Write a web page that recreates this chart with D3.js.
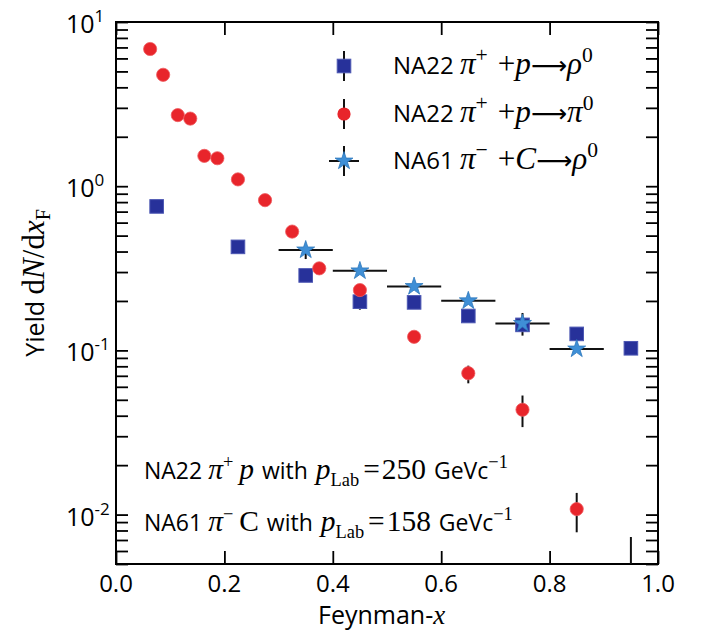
<!DOCTYPE html>
<html>
<head>
<meta charset="utf-8">
<script src="https://cdn.jsdelivr.net/npm/d3@7"></script>
<style>
html,body{margin:0;padding:0;background:#fff;}
svg{display:block;}
</style>
</head>
<body>
<script>
// ---------------- data ----------------
// NA22 pi+ p -> rho0 (blue squares)
const rhoX   = [0.075, 0.225, 0.35, 0.45, 0.55, 0.65, 0.75, 0.85, 0.95];
const rhoY   = [0.753, 0.427, 0.286, 0.198, 0.196, 0.162, 0.143, 0.126, 0.103];
const rhoLo  = [0.753, 0.427, 0.286, 0.177, 0.196, 0.162, 0.132, 0.126, 0.103];
const rhoHi  = [0.753, 0.427, 0.286, 0.220, 0.196, 0.162, 0.155, 0.126, 0.103];
// NA22 pi+ p -> pi0 (red circles)
const pi0X   = [0.063, 0.087, 0.114, 0.137, 0.163, 0.187, 0.225, 0.275, 0.325, 0.375, 0.45, 0.55, 0.65, 0.75, 0.85, 0.95];
const pi0Y   = [6.85, 4.77, 2.71, 2.58, 1.53, 1.48, 1.10, 0.822, 0.529, 0.316, 0.233, 0.121, 0.0726, 0.0435, 0.0108, 0.0030];
const pi0Lo  = [6.85, 4.77, 2.71, 2.58, 1.53, 1.48, 1.10, 0.822, 0.529, 0.316, 0.233, 0.121, 0.063, 0.0341, 0.0078, 0.0015];
const pi0Hi  = [6.85, 4.77, 2.71, 2.58, 1.53, 1.48, 1.10, 0.822, 0.529, 0.316, 0.233, 0.121, 0.0807, 0.0531, 0.01355, 0.0073];
// NA61 pi- C -> rho0 (stars)
const na61X  = [0.35, 0.45, 0.55, 0.65, 0.75, 0.85];
const na61XLo= [0.30, 0.40, 0.50, 0.60, 0.70, 0.80];
const na61XHi= [0.40, 0.50, 0.60, 0.70, 0.80, 0.90];
const na61Y  = [0.409, 0.305, 0.245, 0.2005, 0.146, 0.102];
const na61Lo = [0.360, 0.305, 0.245, 0.2005, 0.123, 0.102];
const na61Hi = [0.440, 0.305, 0.245, 0.2005, 0.169, 0.102];
// ticks
const xTicks = [0.0, 0.2, 0.4, 0.6, 0.8, 1.0];
const xTickLabels = ["0.0", "0.2", "0.4", "0.6", "0.8", "1.0"];
const yMajor = [0.01, 0.1, 1, 10];
const yMajorExp = ["-2", "-1", "0", "1"];

// ---------------- setup ----------------
const W = 701, H = 631;
const L = 116, R = 658, T = 22, B = 564;
const SANS = "'Open Sans', 'Noto Sans', sans-serif";
const SERIF = "'Liberation Serif', 'DejaVu Serif', serif";
const ARROWF = "'DejaVu Sans', 'DejaVu Serif', sans-serif";
const BLUE = "#27319a", RED = "#e8252b", STAR = "#3f8fd6";

const svg = d3.select("body").append("svg").attr("width", W).attr("height", H);
const x = d3.scaleLinear().domain([0, 1]).range([L, R]);
const y = d3.scaleLog().domain([0.005, 10]).range([B, T]);

const yMinor = [];
for (const d of [0.001, 0.01, 0.1, 1]) for (let k = 2; k <= 9; k++) {
  const v = +(d * k).toPrecision(3);
  if (v >= 0.005 && v <= 10) yMinor.push(v);
}
const yAll = yMajor.concat(yMinor);

// axes (ticks pointing inward)
function styleAxis(g) {
  g.select(".domain").remove();
  g.selectAll(".tick line").attr("stroke", "#000").attr("stroke-width", 1.8);
  g.selectAll(".tick text").remove();
}
svg.append("g").attr("transform", `translate(0,${B})`)
  .call(d3.axisBottom(x).tickValues(xTicks).tickSize(-13).tickFormat("")).call(styleAxis);
svg.append("g").attr("transform", `translate(0,${T})`)
  .call(d3.axisTop(x).tickValues(xTicks).tickSize(-13).tickFormat("")).call(styleAxis);
svg.append("g").attr("transform", `translate(${L},0)`)
  .call(d3.axisLeft(y).tickValues(yAll).tickSize(-12).tickFormat("")).call(styleAxis);
svg.append("g").attr("transform", `translate(${R},0)`)
  .call(d3.axisRight(y).tickValues(yAll).tickSize(-12).tickFormat("")).call(styleAxis);

// frame
svg.append("rect").attr("x", L).attr("y", T).attr("width", R - L).attr("height", B - T)
  .attr("fill", "none").attr("stroke", "#000").attr("stroke-width", 2);

// x tick labels
svg.append("g").selectAll("text").data(xTicks).join("text")
  .attr("x", d => x(d)).attr("y", 592)
  .attr("text-anchor", "middle").attr("font-family", SANS).attr("font-size", 24)
  .text((d, i) => xTickLabels[i]);

// y tick labels 10^n
yMajor.forEach((v, i) => {
  const t = svg.append("text").attr("x", 66).attr("y", y(v) + 11)
    .attr("font-family", SANS).attr("font-size", 25);
  t.append("tspan").text("10");
  t.append("tspan").attr("dy", -11).attr("font-size", 17).text(yMajorExp[i]);
});

// axis titles
const xt = svg.append("text").attr("x", 318).attr("y", 624)
  .attr("font-family", SANS).attr("font-size", 25);
xt.append("tspan").text("Feynman-");
xt.append("tspan").attr("font-family", SERIF).attr("font-style", "italic").attr("font-size", 27).text("x");

const yt = svg.append("text").attr("transform", `translate(44,${283}) rotate(-90)`)
  .attr("text-anchor", "middle").attr("font-family", SANS).attr("font-size", 25);
yt.append("tspan").text("Yield ");
yt.append("tspan").attr("font-family", SERIF).attr("font-size", 31).text("d");
yt.append("tspan").attr("font-family", SERIF).attr("font-style", "italic").attr("font-size", 31).text("N");
yt.append("tspan").attr("font-family", SERIF).attr("font-size", 31).text("/d");
yt.append("tspan").attr("font-family", SERIF).attr("font-style", "italic").attr("font-size", 31).text("x");
yt.append("tspan").attr("font-family", SERIF).attr("font-size", 20).attr("dy", 6).text("F");

// ---------------- marks ----------------
svg.append("clipPath").attr("id", "clip").append("rect")
  .attr("x", L).attr("y", T).attr("width", R - L).attr("height", B - T);
const plot = svg.append("g").attr("clip-path", "url(#clip)");

const rho = rhoX.map((d, i) => ({x: d, y: rhoY[i], lo: rhoLo[i], hi: rhoHi[i]}));
const pi0 = pi0X.map((d, i) => ({x: d, y: pi0Y[i], lo: pi0Lo[i], hi: pi0Hi[i]}));
const na61 = na61X.map((d, i) => ({x: d, y: na61Y[i], lo: na61Lo[i], hi: na61Hi[i], xl: na61XLo[i], xh: na61XHi[i]}));

const errG = plot.append("g").attr("stroke", "#111").attr("stroke-width", 2);
errG.selectAll(".e").data(rho.concat(pi0, na61).filter(d => d.lo !== d.hi)).join("line")
  .attr("x1", d => x(d.x)).attr("x2", d => x(d.x))
  .attr("y1", d => y(d.lo)).attr("y2", d => y(d.hi));
errG.selectAll(".h").data(na61).join("line")
  .attr("x1", d => x(d.xl)).attr("x2", d => x(d.xh))
  .attr("y1", d => y(d.y)).attr("y2", d => y(d.y));

plot.append("g").selectAll("rect").data(rho).join("rect")
  .attr("x", d => x(d.x) - 6.8).attr("y", d => y(d.y) - 6.8)
  .attr("width", 13.6).attr("height", 13.6)
  .attr("fill", BLUE).attr("stroke", "#4c57b3").attr("stroke-width", 1);

plot.append("g").selectAll("circle").data(pi0).join("circle")
  .attr("cx", d => x(d.x)).attr("cy", d => y(d.y)).attr("r", 6.6)
  .attr("fill", RED).attr("stroke", "#ef5a5e").attr("stroke-width", 0.8);

const star = d3.symbol().type(d3.symbolStar).size(100);
plot.append("g").selectAll("path").data(na61).join("path")
  .attr("transform", d => `translate(${x(d.x)},${y(d.y)})`)
  .attr("d", star).attr("fill", STAR).attr("stroke", "#2f78bd").attr("stroke-width", 0.8);

// ---------------- rich text helper ----------------
function rich(t, parts, base, sf, supf) {
  let off = 0;
  parts.forEach(p => {
    const s = t.append("tspan").text(p.t);
    s.attr("font-family", p.arrow ? ARROWF : (p.serif ? SERIF : SANS));
    if (p.it) s.attr("font-style", "italic");
    let target = 0, fs = base;
    if (p.sup) { target = -base * 0.5; fs = base * supf; }
    if (p.sub) { target = base * 0.3; fs = base * 0.8; }
    if (p.serif && !p.sup && !p.sub) fs = base * sf;
    if (p.arrow) fs = base * 1.05;
    s.attr("font-size", fs);
    if (p.dx) s.attr("dx", p.dx);
    if (target !== off) { s.attr("dy", target - off); off = target; }
  });
}

// legend
const legRows = [
  {y: 66, kind: "sq", parts: [
    {t: "NA22 "}, {t: "π", serif: 1, it: 1}, {t: "+", serif: 1, sup: 1}, {t: "+", serif: 1, dx: 10},
    {t: "p", serif: 1, it: 1}, {t: "⟶", arrow: 1}, {t: "ρ", serif: 1, it: 1}, {t: "0", serif: 1, sup: 1}]},
  {y: 114, kind: "ci", parts: [
    {t: "NA22 "}, {t: "π", serif: 1, it: 1}, {t: "+", serif: 1, sup: 1}, {t: "+", serif: 1, dx: 10},
    {t: "p", serif: 1, it: 1}, {t: "⟶", arrow: 1}, {t: "π", serif: 1, it: 1}, {t: "0", serif: 1, sup: 1}]},
  {y: 161, kind: "st", parts: [
    {t: "NA61 "}, {t: "π", serif: 1, it: 1}, {t: "−", serif: 1, sup: 1}, {t: "+", serif: 1, dx: 10},
    {t: "C", serif: 1, it: 1}, {t: "⟶", arrow: 1}, {t: "ρ", serif: 1, it: 1}, {t: "0", serif: 1, sup: 1}]}
];
const lg = svg.append("g");
legRows.forEach(r => {
  const mx = 344;
  lg.append("line").attr("x1", mx).attr("x2", mx).attr("y1", r.y - 15).attr("y2", r.y + 15)
    .attr("stroke", "#111").attr("stroke-width", 2);
  if (r.kind === "st") lg.append("line").attr("x1", mx - 15).attr("x2", mx + 15).attr("y1", r.y).attr("y2", r.y)
    .attr("stroke", "#111").attr("stroke-width", 2);
  if (r.kind === "sq") lg.append("rect").attr("x", mx - 6.8).attr("y", r.y - 6.8).attr("width", 13.6).attr("height", 13.6)
    .attr("fill", BLUE).attr("stroke", "#4c57b3");
  if (r.kind === "ci") lg.append("circle").attr("cx", mx).attr("cy", r.y).attr("r", 6.6).attr("fill", RED);
  if (r.kind === "st") lg.append("path").attr("transform", `translate(${mx},${r.y})`).attr("d", star)
    .attr("fill", STAR).attr("stroke", "#2f78bd").attr("stroke-width", 0.8);
  const t = lg.append("text").attr("x", 393).attr("y", r.y + 8).attr("font-size", 24);
  rich(t, r.parts, 24, 1.3, 0.9);
});

// annotations
const notes = [
  {y: 479, parts: [
    {t: "NA22 "}, {t: "π", serif: 1, it: 1}, {t: "+", serif: 1, sup: 1}, {t: " "}, {t: "p", serif: 1, it: 1},
    {t: " with ", dx: 2}, {t: "p", serif: 1, it: 1, dx: 2}, {t: "Lab", serif: 1, sub: 1}, {t: "=", serif: 1, dx: 4}, {t: "250", serif: 1, dx: 2},
    {t: " GeVc", dx: 2}, {t: "−1", serif: 1, sup: 1}]},
  {y: 531, parts: [
    {t: "NA61 "}, {t: "π", serif: 1, it: 1}, {t: "−", serif: 1, sup: 1}, {t: " "}, {t: "C", serif: 1},
    {t: " with ", dx: 2}, {t: "p", serif: 1, it: 1, dx: 2}, {t: "Lab", serif: 1, sub: 1}, {t: "=", serif: 1, dx: 4}, {t: "158", serif: 1, dx: 2},
    {t: " GeVc", dx: 2}, {t: "−1", serif: 1, sup: 1}]}
];
notes.forEach(n => {
  const t = svg.append("text").attr("x", 144).attr("y", n.y).attr("font-size", 23);
  rich(t, n.parts, 23, 1.28, 0.8);
});
</script>
</body>
</html>
